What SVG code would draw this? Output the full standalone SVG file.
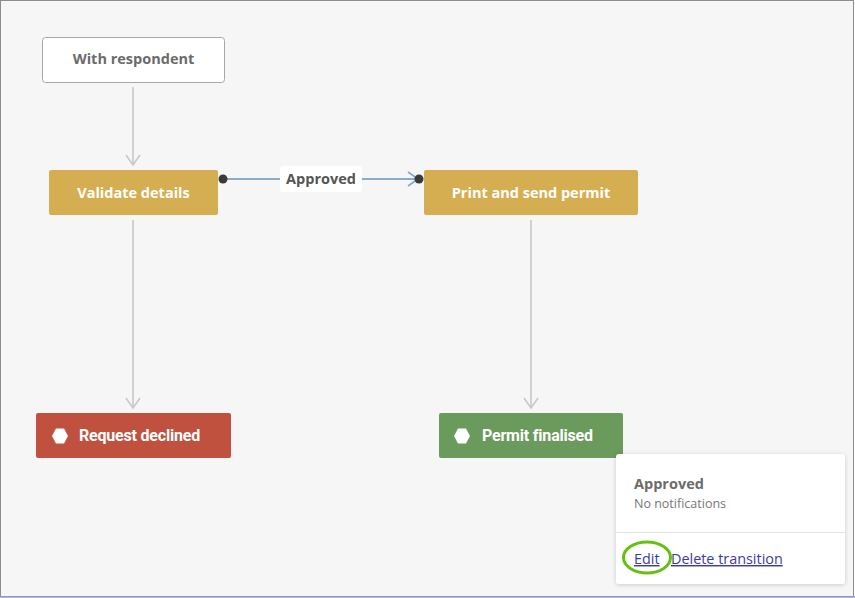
<svg xmlns="http://www.w3.org/2000/svg" width="855" height="598" viewBox="0 0 855 598">
<defs>
<marker id="chev" viewBox="0 0 12 16" refX="11" refY="8" markerWidth="12" markerHeight="16" markerUnits="userSpaceOnUse" orient="auto">
<path d="M1,1 L11,8 L1,15" fill="none" stroke="#c8c8c8" stroke-width="1.6"/>
</marker>
<marker id="chevb" viewBox="0 0 12 16" refX="11" refY="8" markerWidth="12" markerHeight="16" markerUnits="userSpaceOnUse" orient="auto">
<path d="M1,1 L11,8 L1,15" fill="none" stroke="#7fa6cc" stroke-width="1.6"/>
</marker>
<filter id="sh" x="-10%" y="-10%" width="120%" height="130%">
<feDropShadow dx="0" dy="1" stdDeviation="2" flood-color="#000" flood-opacity="0.18"/>
</filter>
</defs>
<style>
.t{font-family:"Open Sans","Noto Sans",sans-serif;font-weight:bold;font-size:14.5px;text-anchor:middle;dominant-baseline:central}
.w{fill:#ffffff}
.c{font-family:"Roboto","Noto Sans",sans-serif;font-weight:bold;font-size:16px;fill:#ffffff;dominant-baseline:central;letter-spacing:-0.2px}
.g{stroke:#c8c8c8;stroke-width:1.6;fill:none}
.lk{font-family:"Open Sans","Noto Sans",sans-serif;font-size:14.4px;fill:#3b3ba8;text-decoration:underline}
</style>
<rect x="0.5" y="0.5" width="853" height="596" fill="#f6f6f6" stroke="#8c8c8c"/>
<line x1="0" y1="597" x2="855" y2="597" stroke="#8f9fd8" stroke-width="1.5"/>
<g id="connectors">
<line class="g" x1="133" y1="87" x2="133" y2="165" marker-end="url(#chev)"/>
<line class="g" x1="133" y1="220" x2="133" y2="408" marker-end="url(#chev)"/>
<line class="g" x1="531" y1="220" x2="531" y2="408" marker-end="url(#chev)"/>
<line x1="223" y1="179" x2="418" y2="179" stroke="#8aacc9" stroke-width="2" marker-end="url(#chevb)"/>
<circle cx="223" cy="179" r="4.5" fill="#3a3a3a"/>
<circle cx="419" cy="179" r="4.5" fill="#3a3a3a"/>
<rect x="280" y="166" width="82" height="26" rx="3" fill="#ffffff"/>
<text class="t" x="321" y="178.5" fill="#555555">Approved</text>
</g>
<g id="with-respondent">
<rect x="42.5" y="37.5" width="182" height="45" rx="3" fill="#ffffff" stroke="#a8a8a8"/>
<text class="t" x="133.5" y="58.5" fill="#6b6b6b">With respondent</text>
</g>
<g id="validate-details">
<rect x="49" y="170" width="169" height="45" rx="2" fill="#d6ae52"/>
<text class="t w" x="133.5" y="192">Validate details</text>
</g>
<g id="print-send">
<rect x="424" y="170" width="214" height="45" rx="2" fill="#d6ae52"/>
<text class="t w" x="531" y="192">Print and send permit</text>
</g>
<g id="request-declined">
<rect x="36" y="413" width="195" height="45" rx="2" fill="#c0513f"/>
<polygon points="52,436 56,428.5 64,428.5 68,436 64,443.5 56,443.5" fill="#ffffff"/>
<text class="c" x="79" y="435.5">Request declined</text>
</g>
<g id="permit-finalised">
<rect x="439" y="413" width="184" height="45" rx="2" fill="#6a9a5c"/>
<polygon points="454,436 458,428.5 466,428.5 470,436 466,443.5 458,443.5" fill="#ffffff"/>
<text class="c" x="482" y="435.5">Permit finalised</text>
</g>
<g id="popup">
<rect x="616" y="454" width="229" height="130" rx="3" fill="#ffffff" filter="url(#sh)"/>
<line x1="616" y1="532.5" x2="845" y2="532.5" stroke="#e2e2e2"/>
<text x="634" y="489" font-family="'Open Sans','Noto Sans',sans-serif" font-weight="bold" font-size="14.5" fill="#6b6b6b">Approved</text>
<text x="634" y="508" font-family="'Open Sans','Noto Sans',sans-serif" font-size="12.5" fill="#777777">No notifications</text>
<text class="lk" x="634" y="564">Edit</text>
<text class="lk" x="671" y="564">Delete transition</text>
<ellipse cx="647" cy="557.5" rx="23.5" ry="15.5" fill="none" stroke="#66c010" stroke-width="3"/>
</g>
</svg>
